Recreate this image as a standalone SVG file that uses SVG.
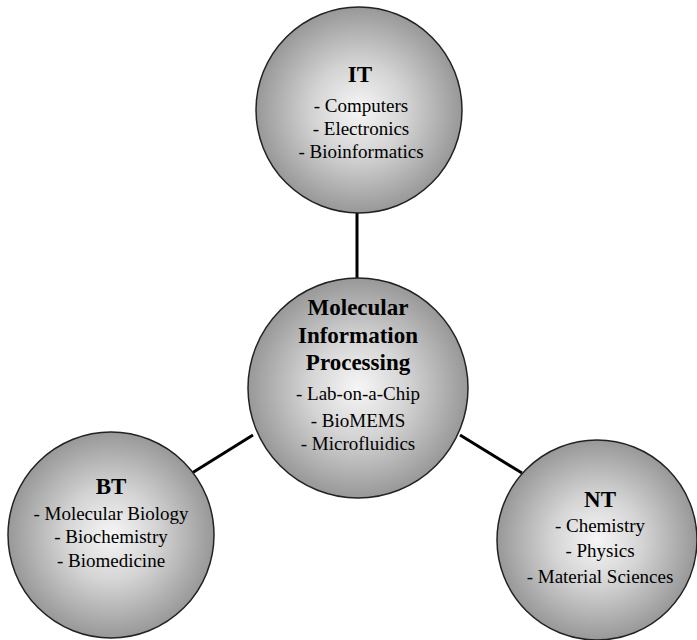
<svg xmlns="http://www.w3.org/2000/svg" width="697" height="640" viewBox="0 0 697 640">
<defs>
<radialGradient id="g" cx="50%" cy="50%" r="50%">
<stop offset="0" stop-color="#f6f6f6"/>
<stop offset="0.45" stop-color="#d4d4d4"/>
<stop offset="1" stop-color="#989898"/>
</radialGradient>
<style>
.c{fill:url(#g);stroke:#222;stroke-width:1.5}
.t{font-family:"Liberation Serif","Times New Roman",serif;font-weight:bold;font-size:23px;fill:#000;text-anchor:middle}
.b{font-family:"Liberation Serif","Times New Roman",serif;font-size:19px;fill:#000;text-anchor:middle}
.l{stroke:#000;stroke-width:3;fill:none}
</style>
</defs>
<rect width="697" height="640" fill="#fff"/>
<g id="connectors">
<line class="l" x1="357" y1="211" x2="357" y2="279"/>
<line class="l" x1="192" y1="473" x2="253" y2="435"/>
<line class="l" x1="460" y1="435" x2="522" y2="473"/>
</g>
<g id="it">
<circle class="c" cx="359" cy="110" r="103"/>
<text class="t" x="360" y="82">IT</text>
<text class="b" x="361" y="112">- Computers</text>
<text class="b" x="361" y="135">- Electronics</text>
<text class="b" x="361" y="158">- Bioinformatics</text>
</g>
<g id="mip">
<circle class="c" cx="358" cy="388" r="110"/>
<text class="t" x="358" y="315">Molecular</text>
<text class="t" x="358" y="343">Information</text>
<text class="t" x="358" y="370">Processing</text>
<text class="b" x="358" y="400">- Lab-on-a-Chip</text>
<text class="b" x="358" y="427">- BioMEMS</text>
<text class="b" x="358" y="450">- Microfluidics</text>
</g>
<g id="bt">
<circle class="c" cx="111" cy="535" r="103"/>
<text class="t" x="111" y="494">BT</text>
<text class="b" x="111" y="520">- Molecular Biology</text>
<text class="b" x="111" y="543">- Biochemistry</text>
<text class="b" x="111" y="567">- Biomedicine</text>
</g>
<g id="nt">
<circle class="c" cx="597" cy="540" r="100"/>
<text class="t" x="600" y="507">NT</text>
<text class="b" x="600" y="532">- Chemistry</text>
<text class="b" x="600" y="557">- Physics</text>
<text class="b" x="600" y="583">- Material Sciences</text>
</g>
</svg>
